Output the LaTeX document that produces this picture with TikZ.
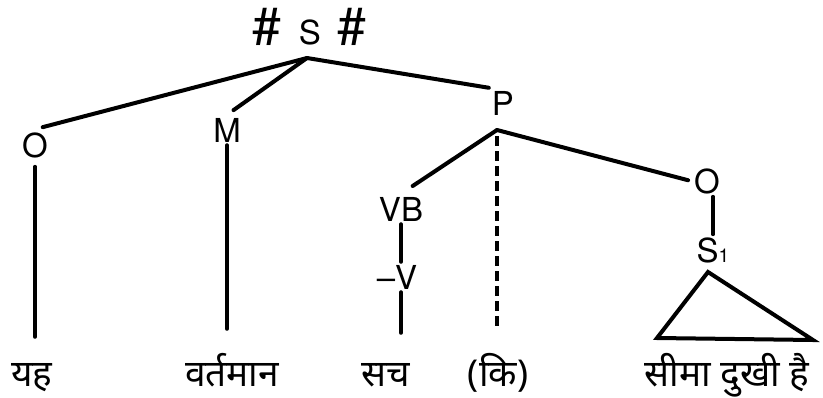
\documentclass[tikz,border=0pt]{standalone}
\usepackage{fontspec}
\setmainfont{TeX Gyre Heros}
\newfontfamily\devfont[Script=Devanagari]{Noto Sans}
\usetikzlibrary{positioning}

\newcommand{\bighash}{{\fontsize{52}{52}\selectfont\#}}

\begin{document}
\begin{tikzpicture}[x=1pt, y=-1pt,
  cat/.style={font=\fontsize{33}{33}\selectfont, inner sep=3pt},
  word/.style={font=\devfont\fontsize{37}{37}\selectfont, anchor=base, inner sep=1pt, text height=24pt, text depth=7pt},
  toword/.style={shorten >=24pt},
  branch/.style={line width=4pt, line cap=round},
  gapline/.style={line width=3.6pt, dash pattern=on 10pt off 5pt}]

\useasboundingbox (0,0) rectangle (823,397);

% categorias
\node[cat] (root) at (309,27) {\bighash\hspace{18pt}S\hspace{16pt}\bighash};
\node[cat] (o1) at (35,145) {O};
\node[cat] (m) at (227,130) {M};
\node[cat] (p) at (503,103) {P};
\node[cat] (vb) at (401,209) {VB};
\node[cat] (v) at (397,277) {--V};
\node[cat] (o2) at (707,181) {O};
\node[cat] (s1) at (713,250) {S{\fontsize{19}{19}\selectfont 1}};

% puntos de rama
\coordinate (sapex) at (307,58);
\coordinate (papex) at (497,130);
\coordinate (tritop) at (708,272);
\coordinate (trileft) at (657,338);
\coordinate (triright) at (813,340);

% hojas
\node[word] (yah) at (32,386) {यह};
\node[word] (vartaman) at (232,386) {वर्तमान};
\node[word] (sach) at (386,386) {सच};
\node[word] (ki) at (498,386) {(कि)};
\node[word] (sima) at (727,386) {सीमा दुखी है};

% ramas
\draw[branch, shorten >=8pt] (sapex) -- (o1.north);
\draw[branch, shorten >=8pt] (sapex) -- (m.north);
\draw[branch] (sapex) -- (p.north west);
\draw[branch, shorten >=14pt] (papex) -- (vb.north);
\draw[branch, shorten >=3pt] (papex) -- (o2.west);
\draw[gapline, shorten <=6pt, shorten >=34pt] (papex) -- (papex |- ki.north);
\draw[branch, toword, shorten <=6pt] (o1.south) -- (o1.south |- yah.north);
\draw[branch, shorten >=32pt] (m.south) -- (m.south |- vartaman.north);
\draw[branch] (vb.south) -- (vb.south |- v.north);
\draw[branch, shorten >=28pt] (vb.south |- v.south) -- (vb.south |- sach.north);
\draw[branch] (s1.north |- o2.south) -- (s1.north);
\draw[branch] (tritop) -- (trileft) -- (triright) -- cycle;
\end{tikzpicture}
\end{document}
